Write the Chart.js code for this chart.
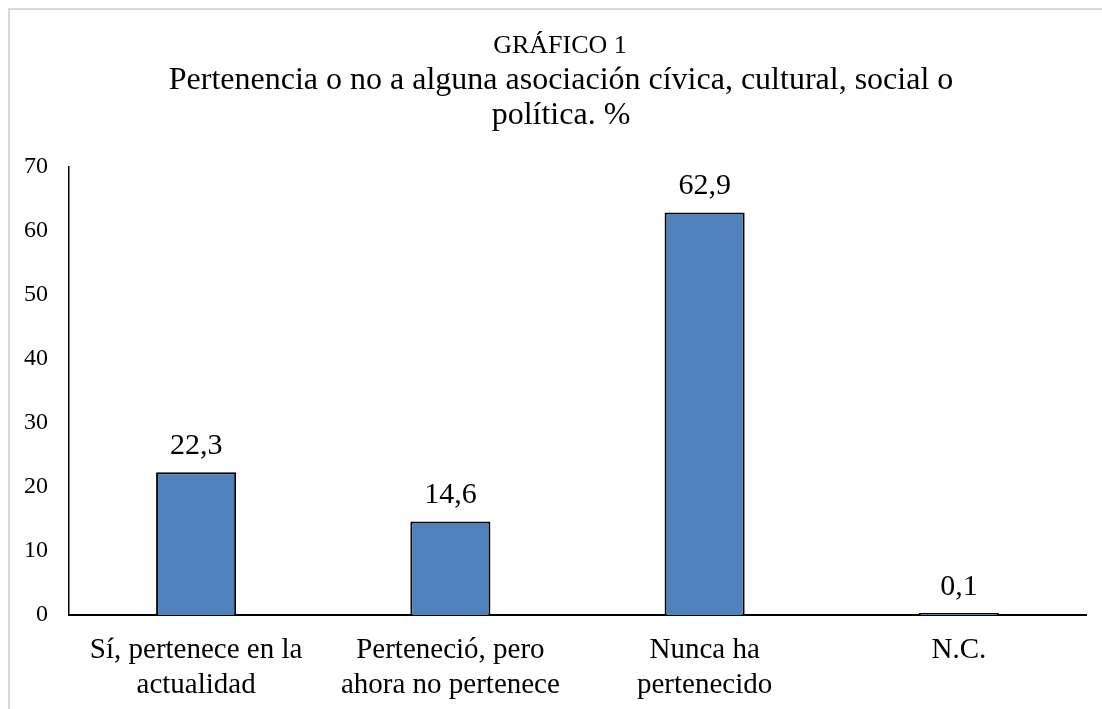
<!DOCTYPE html>
<html>
<head>
<meta charset="utf-8">
<script src="https://cdn.jsdelivr.net/npm/chart.js@4.4.1/dist/chart.umd.min.js"></script>
<style>
html,body{margin:0;padding:0;background:#fff;}
#wrap{position:relative;width:1102px;height:709px;}
</style>
</head>
<body>
<div id="wrap"><canvas id="c" width="1102" height="709"></canvas></div>
<script>
const titleTop = "GRÁFICO 1";
const titleLines = ["Pertenencia o no a alguna asociación cívica, cultural, social o", "política. %"];
const categories = [["Sí, pertenece en la", "actualidad"], ["Perteneció, pero", "ahora no pertenece"], ["Nunca ha", "pertenecido"], ["N.C."]];
const values = [22.3, 14.6, 62.9, 0.1];
const yTicks = [0, 10, 20, 30, 40, 50, 60, 70];

const SERIF = "'Liberation Serif', 'Times New Roman', serif";

const framePlugin = {
  id: 'frame',
  beforeDraw(chart) {
    const ctx = chart.ctx;
    ctx.save();
    ctx.fillStyle = '#fff';
    ctx.fillRect(0, 0, chart.width, chart.height);
    ctx.strokeStyle = '#d9d9d9';
    ctx.lineWidth = 2;
    ctx.strokeRect(9, 9, 1300, 900);
    ctx.restore();
  },
  afterDraw(chart) {
    const ctx = chart.ctx;
    ctx.save();
    ctx.fillStyle = '#000';
    ctx.textAlign = 'center';
    ctx.textBaseline = 'middle';
    ctx.font = "26px " + SERIF;
    ctx.fillText(titleTop, 560, 46);
    ctx.font = "32px " + SERIF;
    ctx.fillText(titleLines[0], 561, 81);
    ctx.fillText(titleLines[1], 561, 116);
    ctx.restore();
  }
};

const labelPlugin = {
  id: 'valueLabels',
  afterDatasetsDraw(chart) {
    const ctx = chart.ctx;
    const meta = chart.getDatasetMeta(0);
    ctx.save();
    ctx.fillStyle = '#000';
    ctx.font = "30px " + SERIF;
    ctx.textAlign = 'center';
    ctx.textBaseline = 'middle';
    meta.data.forEach((bar, i) => {
      const txt = values[i].toFixed(1).replace('.', ',');
      ctx.fillText(txt, bar.x, bar.base - (bar.base - bar.y) - 26);
    });
    ctx.restore();
  }
};

new Chart(document.getElementById('c'), {
  type: 'bar',
  data: {
    labels: categories,
    datasets: [{
      data: values,
      backgroundColor: '#4F81BD',
      borderColor: '#000000',
      borderWidth: 2,
      borderSkipped: 'start',
      minBarLength: 2,
      barPercentage: 1,
      categoryPercentage: 0.315
    }]
  },
  options: {
    responsive: false,
    animation: false,
    devicePixelRatio: 1,
    layout: { padding: { top: 167, left: 10, right: 16, bottom: 0 } },
    plugins: {
      legend: { display: false },
      title: { display: false },
      tooltip: { enabled: false }
    },
    scales: {
      x: {
        grid: { display: false, drawTicks: false },
        border: { display: true, color: '#000', width: 2 },
        ticks: {
          color: '#000',
          font: { family: SERIF, size: 29, lineHeight: 1.2 },
          padding: 18,
          maxRotation: 0,
          autoSkip: false
        },
        afterFit(scale) { scale.height = 94; }
      },
      y: {
        min: 0,
        max: 70,
        afterBuildTicks(scale) { scale.ticks = yTicks.map(v => ({ value: v })); },
        grid: { display: false, drawTicks: false },
        border: { display: true, color: '#000', width: 1.5 },
        ticks: {
          color: '#000',
          font: { family: SERIF, size: 24 },
          padding: 21
        },
        afterFit(scale) { scale.width = 59; }
      }
    }
  },
  plugins: [framePlugin, labelPlugin]
});
</script>
</body>
</html>
